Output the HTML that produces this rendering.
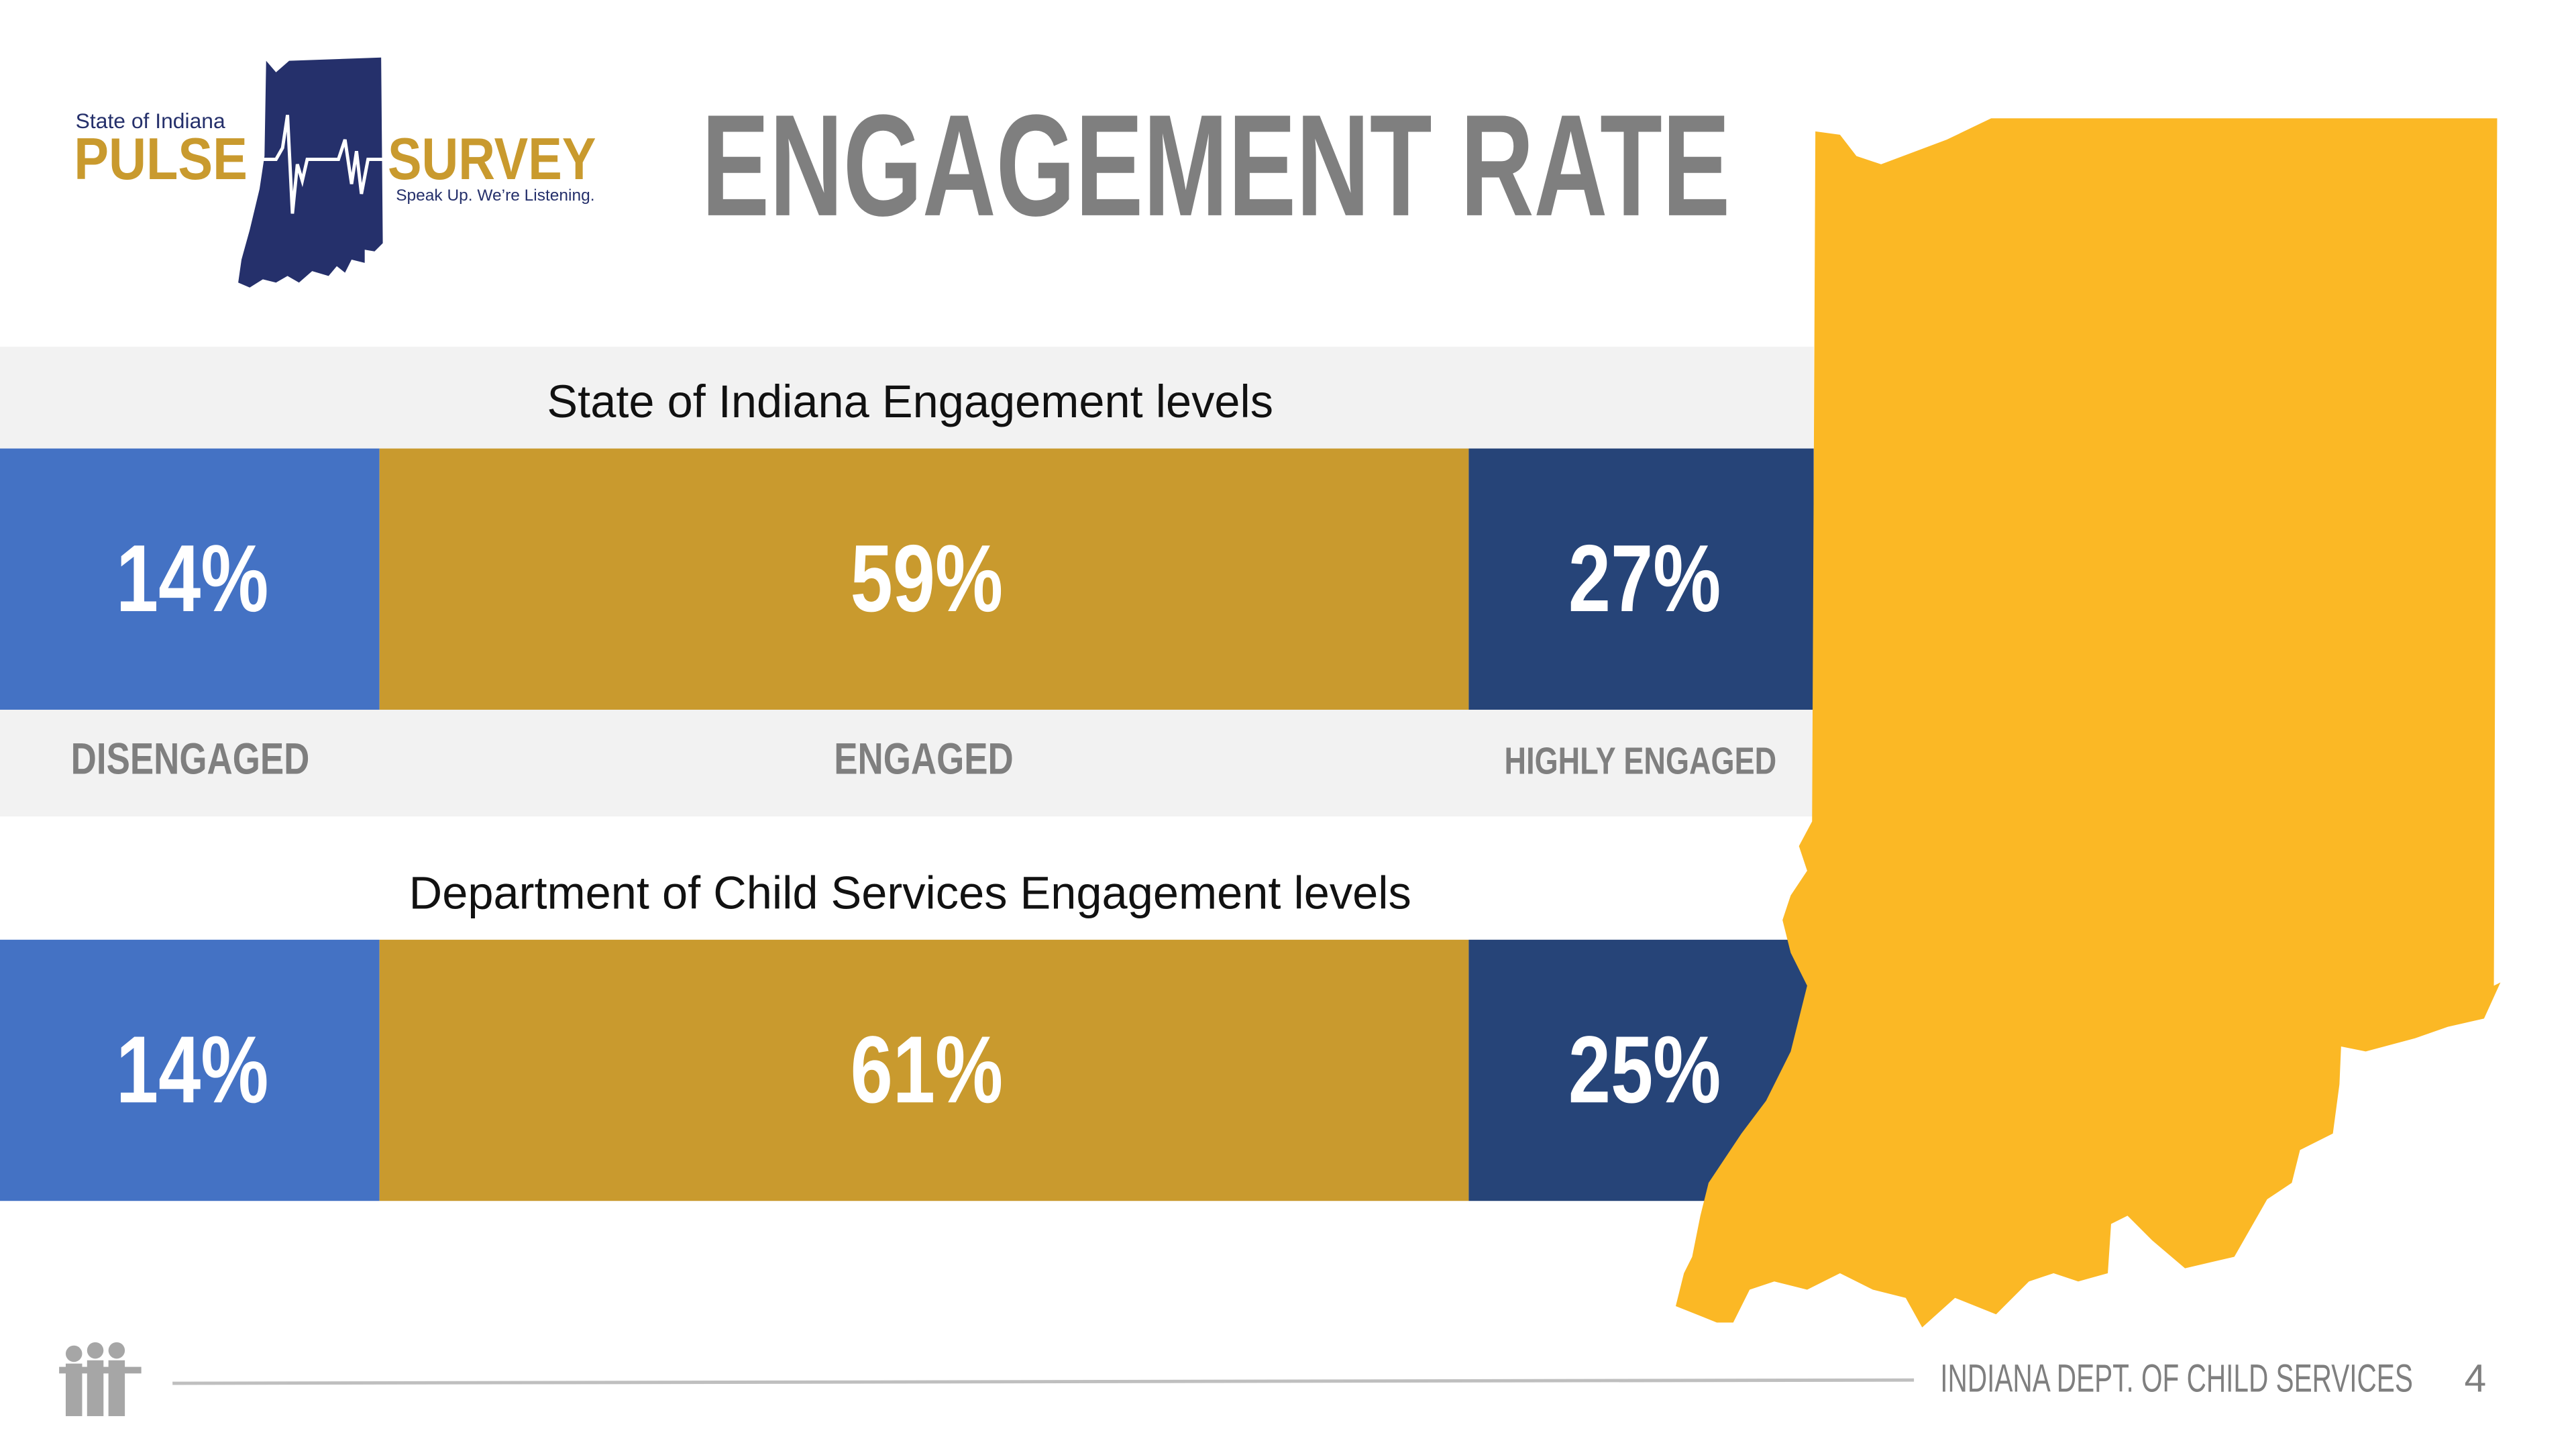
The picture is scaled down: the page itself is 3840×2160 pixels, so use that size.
<!DOCTYPE html>
<html><head><meta charset="utf-8"><style>
html,body{margin:0;padding:0;background:#fff;overflow:hidden}
#stage{position:absolute;left:0;top:0;width:1568px;height:882px;transform:scale(2.449);transform-origin:0 0;font-family:"Liberation Sans",sans-serif}
.abs{position:absolute}
.band{position:absolute;left:0;width:1104px;background:#f2f2f2}
.seg{position:absolute;display:flex;align-items:center;justify-content:center;color:#fff;font-weight:bold;font-size:58px;box-sizing:border-box;padding-left:4px}
.seg span,.lab span{display:inline-block;transform:scaleX(0.8)}
.lab{position:absolute;text-align:center;color:#7f7f7f;font-weight:bold;font-size:27px}
.ttl{position:absolute;left:0;width:1108px;text-align:center;font-size:28px;color:#111}
</style></head><body>
<div id="stage">
<svg class="abs" style="left:0;top:0" width="1568" height="882">
<path fill="#25306b" d="M162,37 L168,44 L176,37 L232,35 L233,148 L228,153 L222,152 L222,160 L214,158 L210,166 L205,162 L200,168 L190,165 L182,172 L175,168 L168,172 L160,170 L152,175 L145,172 L147,158 L152,140 L158,115 L161,95 Z"/>
<polyline fill="none" stroke="#fff" stroke-width="2" points="156,97 168,97 172,90 175,70 178,130 181,100 184,110 187,97 206,97 210,85 214,112 217,92 220,118 224,97 236,97"/>
<line x1="105" y1="842" x2="1165" y2="840" stroke="#bfbfbf" stroke-width="2"/>
<g fill="#a6a6a6">
<circle cx="45" cy="824" r="5"/><circle cx="58" cy="822" r="5"/><circle cx="71" cy="822" r="5"/>
<rect x="40" y="830" width="10" height="32"/><rect x="53" y="828" width="10" height="34"/><rect x="66" y="828" width="10" height="34"/>
<rect x="36" y="832" width="50" height="4"/>
</g>
</svg>
<div class="abs" style="left:46px;top:66px;font-size:13px;color:#25306b">State of Indiana</div>
<div class="abs" style="left:45px;top:77px;font-size:36px;font-weight:bold;color:#c99a2e;transform:scaleX(0.88);transform-origin:0 0;line-height:40px">PULSE</div>
<div class="abs" style="left:236px;top:77px;font-size:36px;font-weight:bold;color:#c99a2e;transform:scaleX(0.86);transform-origin:0 0;line-height:40px">SURVEY</div>
<div class="abs" style="left:241px;top:114px;font-size:10px;color:#25306b">Speak Up. We’re Listening.</div>
<div class="abs" style="left:427px;top:50px;font-size:88px;font-weight:bold;color:#7f7f7f;transform:scaleX(0.705);transform-origin:0 0;white-space:nowrap">ENGAGEMENT RATE</div>

<div class="band" style="top:211px;height:62px"></div>
<div class="band" style="top:432px;height:65px"></div>
<div class="ttl" style="top:229px">State of Indiana Engagement levels</div>
<div class="ttl" style="top:528px">Department of Child Services Engagement levels</div>
<div id="bars"></div>

<svg class="abs" style="left:0;top:0" width="1568" height="882">
<path fill="#fbb825" d="M1105,80 L1120,82 L1130,95 L1145,100 L1185,85 L1212,72 L1520,72 L1518,600 L1522,598 L1512,620 L1490,625 L1470,632 L1440,640 L1425,637 L1424,660 L1420,690 L1400,700 L1395,720 L1380,730 L1360,765 L1330,772 L1310,755 L1295,740 L1285,745 L1283,775 L1265,780 L1250,775 L1235,780 L1215,800 L1190,790 L1170,808 L1160,790 L1140,785 L1120,775 L1100,785 L1080,780 L1065,785 L1055,805 L1045,805 L1020,795 L1025,775 L1030,765 L1035,740 L1040,720 L1050,705 L1060,690 L1075,670 L1085,650 L1090,640 L1095,620 L1100,600 L1090,580 L1085,560 L1090,545 L1100,530 L1095,515 L1103,500 Z"/>
</svg>

<div class="abs" style="left:1181px;top:826px;font-size:24px;color:#7f7f7f;transform:scaleX(0.69);transform-origin:0 0;white-space:nowrap">INDIANA DEPT. OF CHILD SERVICES</div>
<div class="abs" style="left:1500px;top:826px;font-size:24px;color:#7f7f7f">4</div>
</div>
<script>
const categories = ["DISENGAGED","ENGAGED","HIGHLY ENGAGED"];
const stateValues = [14,59,27];
const dcsValues = [14,61,25];
const colors = ["#4472c4","#c99a2e","#264478"];
const segX = [0,231,894,1104];
const rows = [{vals:stateValues,top:273,name:'state'},{vals:dcsValues,top:572,name:'dcs'}];
const host = document.getElementById('bars');
rows.forEach(r=>{
  r.vals.forEach((v,i)=>{
    const d=document.createElement('div');
    d.className='seg';
    
    
    d.style.left=segX[i]+'px';d.style.width=(segX[i+1]-segX[i])+'px';
    d.style.top=r.top+'px';d.style.height='159px';d.style.background=colors[i];
    d.innerHTML='<span>'+v+'%</span>';
    host.appendChild(d);
  });
});
categories.forEach((c,i)=>{
  const l=document.createElement('div');
  l.className='lab';
  
  
  l.style.left=segX[i]+'px';l.style.width=(segX[i+1]-segX[i])+'px';
  l.style.top='447px';
  if(i===2){ l.style.fontSize='23px'; l.style.top='450px'; }
  l.innerHTML='<span>'+c+'</span>';
  host.appendChild(l);
});
</script>
</body></html>
